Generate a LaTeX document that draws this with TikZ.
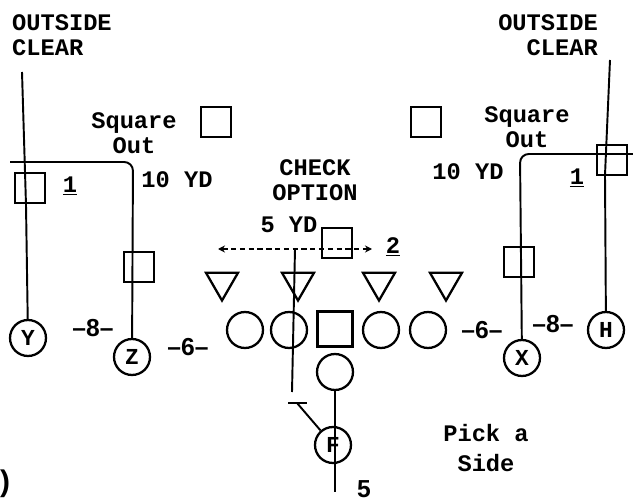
\documentclass[tikz,border=0pt]{standalone}
\usepackage{fontspec}
\setmonofont{Liberation Mono}
\setsansfont{Liberation Sans}
\usetikzlibrary{arrows.meta, positioning, shapes.geometric}

\tikzset{
  lbl/.style={font=\ttfamily\bfseries\fontsize{13.5}{14}\selectfont, inner sep=1pt},
  gap/.style={font=\sffamily\bfseries\fontsize{14}{16}\selectfont, inner sep=1pt},
  player/.style={circle, draw, line width=1.3pt, minimum size=0.72cm, inner sep=0pt,
    font=\ttfamily\bfseries\fontsize{13}{13}\selectfont},
  lman/.style={circle, draw, line width=1.3pt, minimum size=0.72cm, inner sep=0pt},
  snapper/.style={rectangle, draw, line width=1.3pt, minimum size=0.7cm, inner sep=0pt},
  rsq/.style={rectangle, draw, line width=1.3pt, minimum size=0.6cm, inner sep=0pt},
  dtri/.style={regular polygon, regular polygon sides=3, shape border rotate=180,
    draw, line width=1.3pt, minimum size=0.74cm, inner sep=0pt},
  route/.style={line width=1.1pt},
}

\begin{document}
\begin{tikzpicture}[x=0.02cm, y=-0.02cm]
    \useasboundingbox (0,0) rectangle (633,500);

    % Offensive line and backs
    \node[lman] (l1) at (245,330) {};
    \node[lman] (l2) at (289,330) {};
    \node[snapper] (c) at (335,329) {};
    \node[lman] (l4) at (381,330) {};
    \node[lman] (l5) at (428,330) {};
    \node[lman] (b) at (335,372) {};
    \node[player] (F) at (333,445) {F};

    % Receivers
    \node[player] (Y) at (28,338) {Y};
    \node[player] (Z) at (132,357) {Z};
    \node[player] (X) at (522,358) {X};
    \node[player] (H) at (606,330) {H};

    % Defensive front
    \node[dtri] (d1) at (222,282) {};
    \node[dtri] (d2) at (298,282) {};
    \node[dtri] (d3) at (379,282) {};
    \node[dtri] (d4) at (446,282) {};

    % Coverage squares
    \node[rsq] (sqL) at (216,122) {};
    \node[rsq] (sqR) at (426,122) {};
    \node[rsq] (rY) at (30,188) {};
    \node[rsq] (rZ) at (139,267) {};
    \node[rsq] (rX) at (519,262) {};
    \node[rsq] (rH) at (612,160) {};

    % Routes, left side
    \coordinate (ytop) at (22,72);
    \coordinate (ybend) at (26,205);
    \draw[route] (Y) -- (ybend) -- (ytop);
    \coordinate (zcorner) at (133,162);
    \coordinate (zend) at (10,162);
    \draw[route, rounded corners=5pt] (Z) -- (zcorner) -- (zend);

    % Routes, right side
    \coordinate (htop) at (610,60);
    \coordinate (hbend) at (605,175);
    \draw[route] (H) -- (hbend) -- (htop);
    \coordinate (xcorner) at (520,154);
    \coordinate (xend) at (633,154);
    \draw[route, rounded corners=5pt] (X) -- (xcorner) -- (xend);

    % Check option in the middle
    \coordinate (dl) at (218,249);
    \coordinate (dr) at (372,249);
    \draw[route, dash pattern=on 3pt off 2pt, {Stealth[length=4pt,width=4pt]}-{Stealth[length=4pt,width=4pt]}] (dl) -- (dr);
    \node[rsq] (chk) at (337,243) {};
    \coordinate (vt) at (295,249);
    \coordinate (vb) at (292,392);
    \draw[route] (vt) -- (vb);
    \coordinate (tl) at (288,403);
    \coordinate (tr) at (307,403);
    \coordinate (tm) at (297,403);
    \draw[route] (tl) -- (tr);
    \draw[route] (tm) -- (F);
    \coordinate (fbot) at (335,492);
    \draw[route] (b) -- (fbot);

    % Labels
    \node[lbl, align=left, anchor=west] (ocL) at (10,35) {OUTSIDE\\CLEAR};
    \node[lbl, align=right, anchor=east] (ocR) at (600,35) {OUTSIDE\\CLEAR};
    \node[lbl, align=center] (soL) at (134,133) {Square\\Out};
    \node[lbl, align=center] (soR) at (527,127) {Square\\Out};
    \node[lbl] (ydL) at (177,180) {10 YD};
    \node[lbl] (ydR) at (468,172) {10 YD};
    \node[lbl] (oneL) at (70,186) {\underline{1}};
    \node[lbl] (oneR) at (577,178) {\underline{1}};
    \node[lbl, align=center] (chkt) at (315,180) {CHECK\\OPTION};
    \node[lbl] (yd5) at (289,225) {5 YD};
    \node[lbl] (two) at (393,247) {\underline{2}};
    \node[gap] (g8L) at (93,328) {--8--};
    \node[gap] (g6L) at (188,347) {--6--};
    \node[gap] (g6R) at (482,330) {--6--};
    \node[gap] (g8R) at (553,324) {--8--};
    \node[lbl, align=center] (pick) at (486,448) {Pick a\\[3pt]Side};
    \node[gap] (five) at (364,489) {5};
    \node[gap, font=\sffamily\bfseries\fontsize{17}{17}\selectfont] (par) at (5,484) {)};

\end{tikzpicture}
\end{document}
